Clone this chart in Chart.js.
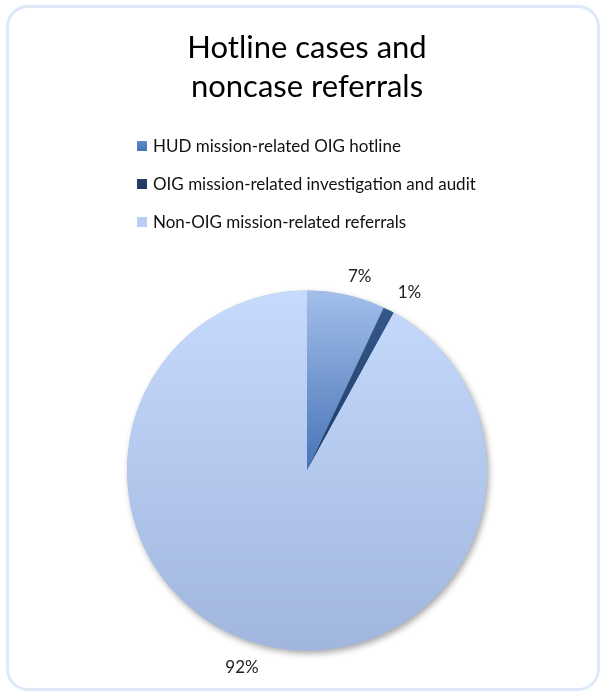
<!DOCTYPE html>
<html>
<head>
<meta charset="utf-8">
<title>Hotline cases and noncase referrals</title>
<script src="https://cdn.jsdelivr.net/npm/chart.js@4/dist/chart.umd.min.js"></script>
<style>
  html, body { margin: 0; padding: 0; background: #fff; }
  #wrap { position: relative; width: 600px; height: 691px; overflow: hidden; }
  #frame {
    position: absolute; left: 6px; top: 5px; width: 588px; height: 680px;
    border: 3px solid #dde9f7; border-radius: 22px;
  }
  canvas { position: absolute; left: 0; top: 0; }
</style>
</head>
<body>
<div id="wrap">
  <div id="frame"></div>
  <canvas id="chart" width="600" height="691"></canvas>
</div>
<script>
// Chart data
const titleLines = ["Hotline cases and", "noncase referrals"];
const categories = [
  "HUD mission-related OIG hotline",
  "OIG mission-related investigation and audit",
  "Non-OIG mission-related referrals"
];
const shares = [7, 1, 92];

// colours: top / bottom of each slice's gradient, and the legend swatch
const sliceTop = ["#a3bfea", "#365b8e", "#c6dafd"];
const sliceBottom = ["#4673b6", "#1e3b63", "#a1b6de"];
const swatch = ["#6289c8", "#22416b", "#b9cef3"];

const FONT = "Lato, 'Open Sans', sans-serif";

function sliceFill(ctx) {
  const chart = ctx.chart;
  const area = chart.chartArea;
  if (!area) return sliceTop[ctx.dataIndex];
  const cy = (area.top + area.bottom) / 2;
  const r = Math.min(area.right - area.left, area.bottom - area.top) / 2;
  const bottom = ctx.dataIndex === 2 ? cy + r : cy;
  const g = chart.ctx.createLinearGradient(0, cy - r, 0, bottom);
  g.addColorStop(0, sliceTop[ctx.dataIndex]);
  g.addColorStop(1, sliceBottom[ctx.dataIndex]);
  return g;
}

// soft shadow under the whole pie
const pieShadow = {
  id: "pieShadow",
  beforeDatasetsDraw(chart) {
    const arc = chart.getDatasetMeta(0).data[0];
    if (!arc) return;
    const c = chart.ctx;
    c.save();
    c.shadowColor = "rgba(0,0,0,0.35)";
    c.shadowBlur = 6;
    c.shadowOffsetX = 2;
    c.shadowOffsetY = 3;
    c.fillStyle = "#a8bce2";
    c.beginPath();
    c.arc(arc.x, arc.y, arc.outerRadius, 0, Math.PI * 2);
    c.fill();
    c.restore();
  }
};

// stacked legend on the left, one item per row
const stackedLegend = {
  id: "stackedLegend",
  afterDraw(chart) {
    const c = chart.ctx;
    c.save();
    c.font = "17px " + FONT;
    c.textBaseline = "middle";
    c.textAlign = "left";
    chart.data.labels.forEach((label, i) => {
      const y = 146 + i * 38;
      const g = c.createLinearGradient(0, y - 5, 0, y + 5);
      g.addColorStop(0, swatch[i]);
      g.addColorStop(1, sliceBottom[i]);
      c.fillStyle = i === 2 ? swatch[i] : g;
      c.fillRect(137, y - 5, 10, 10);
      c.fillStyle = "#111";
      c.fillText(label, 153, y + 1);
    });
    c.restore();
  }
};

// percentage labels outside the slices
const labelDist = [21, 25, 27];
const labelTurn = [2.6, 3, 3.9];
const pctLabels = {
  id: "pctLabels",
  afterDatasetsDraw(chart) {
    const c = chart.ctx;
    const total = shares.reduce((a, b) => a + b, 0);
    c.save();
    c.font = "17px " + FONT;
    c.fillStyle = "#222";
    c.textAlign = "center";
    c.textBaseline = "middle";
    chart.getDatasetMeta(0).data.forEach((arc, i) => {
      const mid = (arc.startAngle + arc.endAngle) / 2 + labelTurn[i] * Math.PI / 180;
      const r = arc.outerRadius + labelDist[i];
      const x = arc.x + Math.cos(mid) * r;
      const y = arc.y + Math.sin(mid) * r;
      c.fillText(Math.round(shares[i] / total * 100) + "%", x, y);
    });
    c.restore();
  }
};

new Chart(document.getElementById("chart"), {
  type: "pie",
  data: {
    labels: categories,
    datasets: [{
      data: shares,
      backgroundColor: sliceFill,
      borderWidth: 0
    }]
  },
  options: {
    responsive: false,
    animation: false,
    events: [],
    layout: { padding: { left: 127, right: 113, top: 0, bottom: 40 } },
    plugins: {
      legend: { display: false },
      tooltip: { enabled: false },
      title: {
        display: true,
        text: titleLines,
        color: "#000",
        font: { family: FONT, size: 31, weight: "normal", lineHeight: 1.258 },
        padding: { top: 29, bottom: 183 }
      }
    }
  },
  plugins: [pieShadow, pctLabels, stackedLegend]
});
</script>
</body>
</html>
